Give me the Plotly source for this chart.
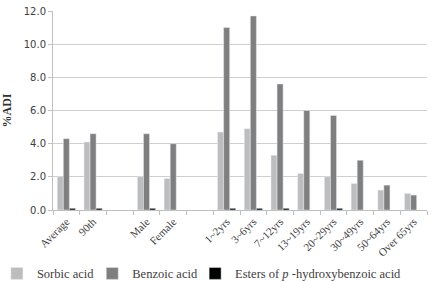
import plotly.graph_objects as go

categories = ["Average", "90th", " ", "Male", "Female", "  ",
              "1~2yrs", "3~6yrs", "7~12yrs", "13~19yrs", "20~29yrs",
              "30~49yrs", "50~64yrs", "Over 65yrs"]
sorbic = [2.0, 4.1, None, 2.0, 1.9, None, 4.7, 4.9, 3.3, 2.2, 2.0, 1.6, 1.2, 1.0]
benzoic = [4.3, 4.6, None, 4.6, 4.0, None, 11.0, 11.7, 7.6, 6.0, 5.7, 3.0, 1.5, 0.9]
esters = [0.1, 0.1, None, 0.1, None, None, 0.1, 0.1, 0.1, None, 0.1, None, None, None]
y_ticks = [0, 2, 4, 6, 8, 10, 12]
y_ticklabels = ["0.0", "2.0", "4.0", "6.0", "8.0", "10.0", "12.0"]

fig = go.Figure()
fig.add_bar(x=categories, y=sorbic, name="Sorbic acid", marker_color="#bdbdbd",
            legend="legend")
fig.add_bar(x=categories, y=benzoic, name="Benzoic acid", marker_color="#7f7f7f",
            legend="legend2")
fig.add_bar(x=categories, y=esters, name="Esters of <i>p</i> -hydroxybenzoic acid",
            marker_color="#000000", legend="legend3")

leg_common = dict(orientation="h", xanchor="left", y=-0.245, yanchor="top",
                  font=dict(family="Liberation Serif", size=12.5, color="#404040"),
                  itemwidth=30, bgcolor="rgba(0,0,0,0)")

fig.update_layout(
    width=431, height=281,
    margin=dict(l=53, r=4, t=11, b=71, autoexpand=False),
    paper_bgcolor="white", plot_bgcolor="white",
    barmode="group", bargap=0.32, bargroupgap=0,
    showlegend=True,
    legend=dict(x=-0.15, **leg_common),
    legend2=dict(x=0.105, **leg_common),
    legend3=dict(x=0.38, **leg_common),
    xaxis=dict(categoryorder="array", categoryarray=categories,
               tickangle=-45, tickson="boundaries", ticks="outside", ticklen=4,
               tickcolor="#bfbfbf", showline=True, linecolor="#bfbfbf",
               tickfont=dict(family="Liberation Serif", size=11, color="#404040"),
               showgrid=False, range=[-0.5, 13.5]),
    yaxis=dict(range=[0, 12], tickvals=y_ticks, ticktext=y_ticklabels,
               ticks="outside", ticklen=4, tickcolor="#bfbfbf",
               showline=True, linecolor="#bfbfbf",
               showgrid=True, gridcolor="#cfcfcf", gridwidth=1,
               tickfont=dict(family="DejaVu Sans", size=10, color="#404040"),
               title=dict(text="<b>%ADI</b>", standoff=12,
                          font=dict(family="Liberation Serif", size=12, color="#303030"))),
)
fig.write_html("out.html")
